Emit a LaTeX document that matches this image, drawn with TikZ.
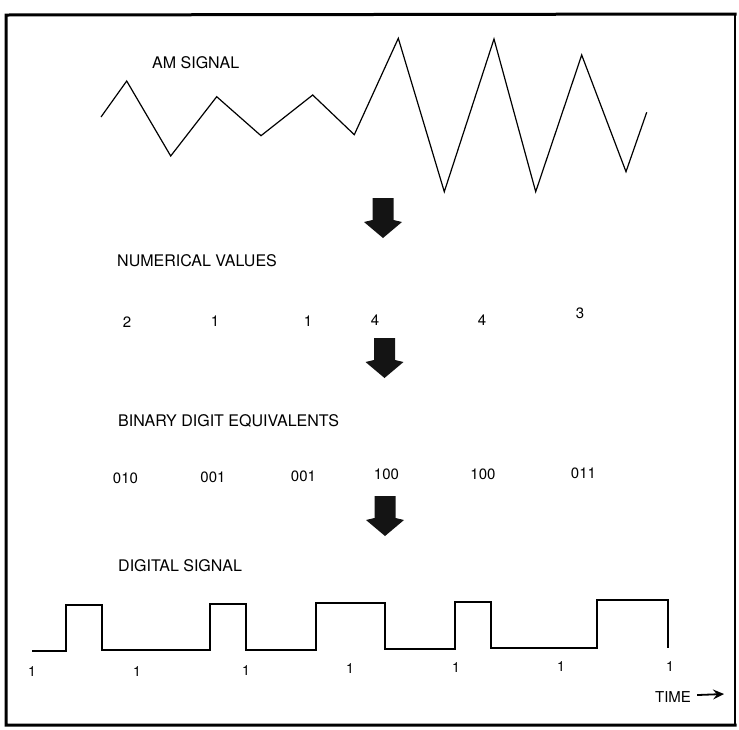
\documentclass[tikz,border=0pt]{standalone}
\usepackage{fontspec}
\setmainfont{TeX Gyre Heros}
\usetikzlibrary{arrows.meta}
\begin{document}
\begin{tikzpicture}[x=1pt,y=-1pt,
  lbl/.style={font=\fontsize{16}{18}\selectfont, inner sep=0pt, anchor=base west},
  num/.style={font=\fontsize{15}{18}\selectfont, inner sep=0pt},
  one/.style={font=\fontsize{14}{16}\selectfont, inner sep=0pt},
  sig/.style={line width=1.2pt, line join=miter},
  frame/.style={line width=3pt, line cap=rect},
  blockarrow/.pic={\fill[black!92] (-10.5,0) -- (10.5,0) -- (10.5,22) -- (19,24) -- (0,40) -- (-19,24) -- (-10.5,22) -- cycle;}]
\useasboundingbox (0,0) rectangle (739,729);
% frame
\draw[frame] (735,14) -- (6,15) -- (6,725) -- (735,725);
\draw[line width=1.2pt] (735,14) -- (735,725);
% AM signal
\node[lbl] (am) at (152,68) {AM SIGNAL};
\draw[sig] (101,117) -- (126.7,81) -- (170.7,156) -- (216.7,96.7) -- (261,135.7) -- (312.7,95) -- (354.3,134.7)
  -- (398.3,38.3) -- (444.3,191.7) -- (494,39) -- (535.7,191.7) -- (581.7,55) -- (626,171.7) -- (646.7,112.3);
\pic at (383,198) {blockarrow};
% numerical values
\node[lbl] (nv) at (117,266) {NUMERICAL VALUES};
\node[num] (n1) at (127,322) {2};
\node[num] (n2) at (215,321) {1};
\node[num] (n3) at (308,321) {1};
\node[num] (n4) at (375,320) {4};
\node[num] (n5) at (482,320) {4};
\node[num] (n6) at (580,313) {3};
\pic at (384.5,338) {blockarrow};
% binary
\node[lbl] (bd) at (118,426) {BINARY DIGIT EQUIVALENTS};
\node[num] (b1) at (125.5,478) {010};
\node[num] (b2) at (213,477) {001};
\node[num] (b3) at (303.5,476) {001};
\node[num] (b4) at (386.5,474) {100};
\node[num] (b5) at (483,474) {100};
\node[num] (b6) at (583.5,473) {011};
\pic at (385,496) {blockarrow};
% digital signal
\node[lbl] (ds) at (118,571) {DIGITAL SIGNAL};
\draw[sig] (32,651) -- (66,651) -- (66,605) -- (102,605) -- (102,650) -- (210,650) -- (210,604) -- (246,604)
  -- (246,650) -- (316,650) -- (316,603) -- (385,603) -- (385,649) -- (455,649) -- (455,602) -- (491,602)
  -- (491,648) -- (597,648) -- (597,600) -- (668,600) -- (668,648);
\node[one] (o1) at (32,672) {1};
\node[one] (o2) at (137,672) {1};
\node[one] (o3) at (246,671) {1};
\node[one] (o4) at (350,669) {1};
\node[one] (o5) at (456,668) {1};
\node[one] (o6) at (561,667) {1};
\node[one] (o7) at (670,667) {1};
\node[num, anchor=base] (time) at (673,702) {TIME};
\coordinate (tend) at (724,694);
\draw[line width=1.8pt, -{Stealth[length=11pt,width=10pt,inset=4pt]}] (time.east) ++(6,-1.5) coordinate (tstart) -- (tend);
\end{tikzpicture}
\end{document}
